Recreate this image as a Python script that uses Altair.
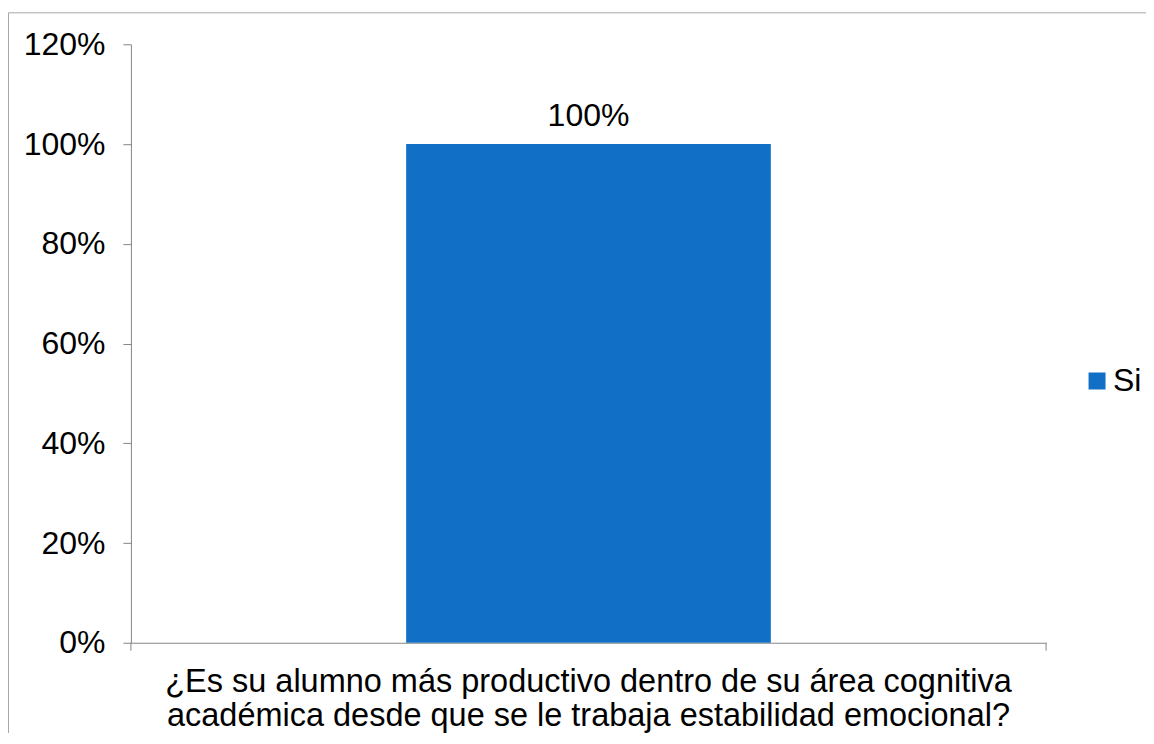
import altair as alt
import pandas as pd

CATEGORIES = ["¿Es su alumno más productivo dentro de su área cognitiva|académica desde que se le trabaja estabilidad emocional?"]
SERIES = ["Si"]
VALUES = [1.00]
Y_TICKS = [0, 0.2, 0.4, 0.6, 0.8, 1.0, 1.2]

df = pd.DataFrame({"cat": CATEGORIES, "serie": SERIES, "val": VALUES})

FONT = "Liberation Sans"
GRAY = "#868686"
BLUE = "#1170C6"
FS = 32
W, H = 916, 599

x_enc = alt.X("cat:N", title=None,
              scale=alt.Scale(paddingInner=0, paddingOuter=0),
              axis=alt.Axis(labelExpr="split(datum.label, '|')", labelAngle=0,
                            labelFontSize=32.5, labelFont=FONT, labelColor="#000000",
                            labelLineHeight=34, labelPadding=23, ticks=False,
                            domainColor=GRAY, labelLimit=2000))
y_enc = alt.Y("val:Q", title=None,
              scale=alt.Scale(domain=[0, 1.2]),
              axis=alt.Axis(values=Y_TICKS, format=".0%", grid=False,
                            labelFontSize=FS, labelFont=FONT, labelColor="#000000",
                            tickSize=8, tickColor=GRAY, domainColor=GRAY,
                            labelPadding=18))

bars = alt.Chart(df).mark_bar(size=365).encode(
    x=x_enc, y=y_enc,
    color=alt.Color("serie:N", scale=alt.Scale(range=[BLUE]),
                    legend=alt.Legend(title=None, orient="none", legendX=951, legendY=321,
                                      symbolType="square", symbolSize=289,
                                      symbolStrokeWidth=0, labelFontSize=FS,
                                      labelFont=FONT, labelColor="#000000",
                                      labelOffset=0))
)

labels = alt.Chart(df).mark_text(baseline="alphabetic", dy=-18, fontSize=FS, font=FONT,
                                 color="#000000").encode(
    x=alt.X("cat:N"), y=alt.Y("val:Q"), text=alt.Text("val:Q", format=".0%"))

tick_df = pd.DataFrame({"p": [0, W]})
xticks = alt.Chart(tick_df).mark_rule(color=GRAY, strokeWidth=1).encode(
    x=alt.X("p:Q", scale=None), y=alt.value(H), y2=alt.value(H + 8))

border_top = alt.Chart(tick_df.head(1)).mark_rule(color="#A6A6A6", strokeWidth=1).encode(
    x=alt.value(-122.5), x2=alt.value(W + 200), y=alt.value(-31.5))
border_left = alt.Chart(tick_df.head(1)).mark_rule(color="#A6A6A6", strokeWidth=1).encode(
    x=alt.value(-122.5), y=alt.value(-31.5), y2=alt.value(H + 200))

chart = alt.layer(bars, labels, xticks, border_top, border_left).properties(
    width=W, height=H,
    autosize=alt.AutoSizeParams(type="none"),
    padding={"left": 123, "top": 36, "right": 100, "bottom": 90},
).configure_view(stroke=None)

chart.save("out.html", embed_options={"renderer": "svg", "actions": False})
